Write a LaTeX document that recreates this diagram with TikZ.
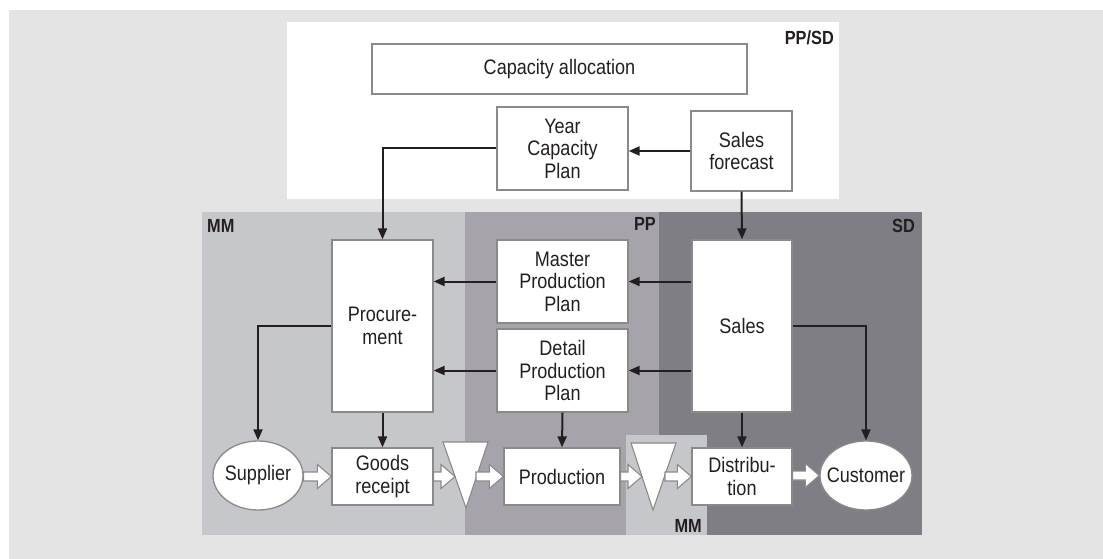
\documentclass[tikz,border=0pt]{standalone}
\usepackage{fontspec}
\setmainfont{Liberation Sans}[FakeStretch=0.86]
\usetikzlibrary{arrows.meta,shapes.geometric,calc}

\definecolor{pagegray}{HTML}{E4E4E5}
\definecolor{mmgray}{HTML}{C6C7CA}
\definecolor{ppgray}{HTML}{A6A4AA}
\definecolor{sdgray}{HTML}{7F7E84}
\definecolor{framegray}{HTML}{8A8A8A}
\definecolor{inkgray}{HTML}{231F20}

\tikzset{
  box/.style={draw=framegray, line width=1.3pt, fill=white, inner sep=2pt,
    align=center, text=inkgray, font=\fontsize{21}{22.5}\selectfont},
  party/.style={box, ellipse},
  modlabel/.style={inner sep=0pt, text=inkgray, font=\bfseries\fontsize{19}{20}\selectfont},
  link/.style={line width=2pt, inkgray, -{Triangle[length=11pt,width=9pt]}},
  hollow/.style={draw=framegray, line width=1.1pt, fill=white, line join=miter},
  funnel/.style={draw=framegray, line width=1.1pt, fill=white, line join=miter},
}

% hollow material flow arrow, tip at #2
\newcommand\flowarrow[2]{%
  \draw[hollow] let \p1=(#1), \p2=(#2) in
    (\x1,\y2+4.5pt) -- (\x2-14pt,\y2+4.5pt) -- (\x2-14pt,\y2+12pt) -- (\x2,\y2)
    -- (\x2-14pt,\y2-12pt) -- (\x2-14pt,\y2-4.5pt) -- (\x1,\y2-4.5pt) -- cycle;}

\begin{document}
\begin{tikzpicture}[x=1pt, y=-1pt]

    \useasboundingbox (0,0) rectangle (1103,559);
    \fill[white] (0,0) rectangle (1103,559);
    \fill[pagegray] (9,10) rectangle (1103,559);

    %% Planning area
    \fill[white] (287,22) rectangle (839,199);
    \node[modlabel, anchor=base east] (lblppsd) at (834,45) {PP/SD};

    %% Departments
    \fill[mmgray] (202,212) rectangle (465,535);
    \fill[ppgray] (465,212) rectangle (659,535);
    \fill[sdgray] (659,212) rectangle (922,535);
    \fill[mmgray] (626,435) rectangle (707,535);
    \node[modlabel, anchor=base west] (lblmm) at (207,232) {MM};
    \node[modlabel, anchor=base east] (lblpp) at (656,230) {PP};
    \node[modlabel, anchor=base east] (lblsd) at (915,232) {SD};
    \node[modlabel, anchor=base east] (lblmmx) at (702,532) {MM};

    % Planning boxes
    \node[box, minimum width=375pt, minimum height=50pt] (capalloc) at (559.5,69) {Capacity allocation};
    \node[box, minimum width=131pt, minimum height=83pt] (yearplan) at (562.5,148.5) {Year\\Capacity\\Plan};
    \node[box, minimum width=101pt, minimum height=80pt] (forecast) at (741.5,151) {Sales\\forecast};

    % Department boxes
    \node[box, minimum width=101pt, minimum height=172pt] (procure) at (382.5,326) {Procure-\\ment};
    \node[box, minimum width=131pt, minimum height=83pt] (master) at (562.5,281.5) {Master\\Production\\Plan};
    \node[box, minimum width=131pt, minimum height=83pt] (detail) at (562.5,370.5) {Detail\\Production\\Plan};
    \node[box, minimum width=100pt, minimum height=172pt] (sales) at (742,326) {Sales};

    % Material flow
    \node[party, minimum width=90pt, minimum height=69pt] (supplier) at (258,475.5) {\makebox[0pt]{Supplier}};
    \node[box, minimum width=101pt, minimum height=57pt] (goods) at (382.5,476.5) {Goods\\receipt};
    \node[box, minimum width=116pt, minimum height=57pt] (production) at (562,476.5) {Production};
    \node[box, minimum width=100pt, minimum height=57pt] (distrib) at (742,476.5) {Distribu-\\tion};
    \node[party, minimum width=92pt, minimum height=69pt] (customer) at (866,475.5) {\makebox[0pt]{Customer}};

    % Stock points
    \draw[funnel] (443,442) -- (488,442) -- (466,508) -- cycle;
    \draw[funnel] (631,443) -- (676,443) -- (653,510) -- cycle;
    \coordinate (stockain) at (455,476.5);
    \coordinate (stockaout) at (476,476.5);
    \coordinate (stockbin) at (642,476.5);
    \coordinate (stockbout) at (665,476.5);

    \flowarrow{supplier.east}{goods.west}
    \flowarrow{goods.east}{stockain}
    \flowarrow{stockaout}{production.west}
    \flowarrow{production.east}{stockbin}
    \flowarrow{stockbout}{distrib.west}
    \flowarrow{distrib.east}{customer.west}

    %% Information flow
    \draw[link] (forecast.west) -- (forecast.west -| yearplan.east);
    \draw[link] (yearplan.west) -| (procure.north);
    \draw[link] (forecast.south) -- (sales.north);
    \draw[link] (sales.west |- master.east) -- (master.east);
    \draw[link] (sales.west |- detail.east) -- (detail.east);
    \draw[link] (master.west) -- (master.west -| procure.east);
    \draw[link] (detail.west) -- (detail.west -| procure.east);
    \draw[link] (procure.west) -| (supplier.north);
    \draw[link] (sales.east) -| (customer.north);
    \draw[link] (procure.south) -- (goods.north);
    \draw[link] (detail.south) -- (production.north);
    \draw[link] (sales.south) -- (distrib.north);

\end{tikzpicture}
\end{document}
